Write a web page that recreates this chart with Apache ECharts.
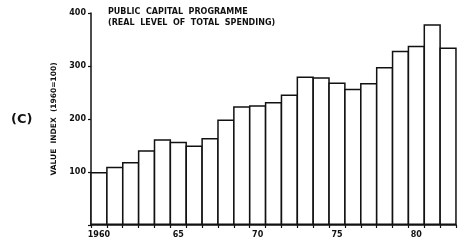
<!DOCTYPE html>
<html>
<head>
<meta charset="utf-8">
<script src="https://cdn.jsdelivr.net/npm/echarts@6/dist/echarts.min.js"></script>
<style>
  html, body { margin: 0; padding: 0; background: #fff; }
  #main { width: 470px; height: 242px; }
</style>
</head>
<body>
<div id="main"></div>
<script>
// years 1960..1982
var years = ['1960', '1961', '1962', '1963', '1964', '1965', '1966', '1967', '1968', '1969', '1970',
  '1971', '1972', '1973', '1974', '1975', '1976', '1977', '1978', '1979', '1980', '1981', '1982'];
// value index (1960 = 100)
var spending = [100, 110, 119, 141, 162, 157, 150, 164, 199, 224, 226,
  232, 246, 280, 279, 269, 257, 268, 298, 329, 338, 379, 335];
// labels shown on x axis
var xTickLabels = { '1960': '1960', '1965': '65', '1970': '70', '1975': '75', '1980': '80' };
var yTicks = [100, 200, 300, 400];

var font = 'DejaVu Sans';
var chart = echarts.init(document.getElementById('main'), null, { renderer: 'canvas' });

var option = {
  animation: false,
  backgroundColor: '#fff',
  title: {
    text: 'PUBLIC  CAPITAL  PROGRAMME\n(REAL  LEVEL  OF  TOTAL  SPENDING)',
    left: 103,
    top: 1,
    textStyle: { fontFamily: font, fontSize: 8, fontWeight: 'bold', color: '#111', lineHeight: 11 }
  },
  graphic: [{
    type: 'text',
    left: 11,
    top: 113,
    style: { text: '(C)', font: 'bold 13px ' + font, fill: '#111' }
  }],
  grid: { left: 91, right: 14, top: 13, bottom: 17 },
  xAxis: {
    type: 'category',
    data: years,
    axisLine: { lineStyle: { color: '#111', width: 1.5 } },
    axisTick: { show: true, interval: 0, length: 3, lineStyle: { color: '#111', width: 1.2 } },
    axisLabel: {
      interval: 0,
      margin: 6,
      fontFamily: font, fontSize: 8, fontWeight: 'bold', color: '#111',
      formatter: function (v) { return xTickLabels[v] || ''; }
    },
    splitLine: { show: false }
  },
  yAxis: {
    type: 'value',
    min: 0,
    max: 400,
    interval: 100,
    name: 'VALUE  INDEX  (1960=100)',
    nameLocation: 'middle',
    nameGap: 31,
    nameRotate: 90,
    nameTextStyle: { fontFamily: font, fontSize: 7.5, fontWeight: 'bold', color: '#111' },
    axisLine: { show: true, lineStyle: { color: '#111', width: 1.5 } },
    axisTick: { show: true, length: 3, lineStyle: { color: '#111', width: 1.2 } },
    axisLabel: {
      margin: 5,
      fontFamily: font, fontSize: 8, fontWeight: 'bold', color: '#111',
      formatter: function (v) { return yTicks.indexOf(v) >= 0 ? String(v) : ''; }
    },
    splitLine: { show: false }
  },
  series: [{
    type: 'bar',
    data: spending,
    barWidth: 17.3,
    itemStyle: { color: '#fff', borderColor: '#111', borderWidth: 1.5 }
  }]
};

chart.setOption(option);
</script>
</body>
</html>
